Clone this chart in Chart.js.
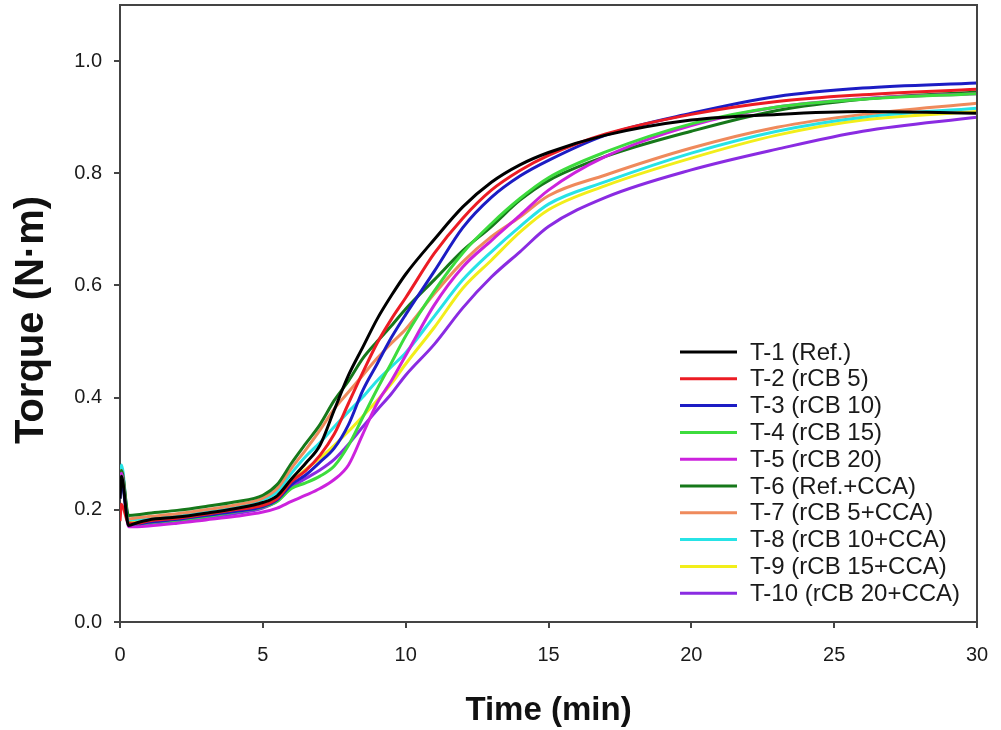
<!DOCTYPE html>
<html><head><meta charset="utf-8">
<script src="https://cdn.jsdelivr.net/npm/chart.js@4"></script>
<style>html,body{margin:0;padding:0;background:#fff}</style>
</head><body>
<canvas id="c" width="1001" height="730"></canvas>
<script>
// ---- data ----
const times = [0, 0.05, 0.3, 0.6, 1, 2, 3, 4, 5, 5.5, 6, 6.5, 7, 7.5, 8, 8.5, 9, 9.5, 10, 11, 12, 13, 14, 15, 17, 20, 23, 26, 30];
const t1  = [0.22, 0.26, 0.172, 0.177, 0.182, 0.187, 0.194, 0.202, 0.213, 0.225, 0.255, 0.283, 0.315, 0.378, 0.44, 0.49, 0.54, 0.582, 0.62, 0.682, 0.74, 0.784, 0.815, 0.837, 0.868, 0.895, 0.905, 0.91, 0.907];
const t2  = [0.18, 0.21, 0.176, 0.176, 0.18, 0.185, 0.192, 0.2, 0.208, 0.22, 0.25, 0.27, 0.297, 0.335, 0.39, 0.445, 0.497, 0.54, 0.578, 0.657, 0.72, 0.77, 0.805, 0.832, 0.87, 0.905, 0.928, 0.94, 0.95];
const t3  = [0.22, 0.25, 0.176, 0.175, 0.178, 0.183, 0.19, 0.197, 0.206, 0.218, 0.245, 0.262, 0.285, 0.31, 0.352, 0.413, 0.46, 0.507, 0.548, 0.625, 0.703, 0.757, 0.795, 0.823, 0.868, 0.907, 0.937, 0.952, 0.961];
const t4  = [0.23, 0.26, 0.177, 0.175, 0.177, 0.182, 0.188, 0.196, 0.205, 0.215, 0.238, 0.248, 0.26, 0.278, 0.315, 0.365, 0.415, 0.462, 0.51, 0.59, 0.658, 0.71, 0.755, 0.792, 0.838, 0.888, 0.918, 0.932, 0.942];
const t5  = [0.24, 0.265, 0.17, 0.17, 0.171, 0.176, 0.182, 0.188, 0.196, 0.203, 0.215, 0.226, 0.238, 0.254, 0.28, 0.335, 0.39, 0.43, 0.475, 0.565, 0.633, 0.68, 0.725, 0.77, 0.83, 0.885, 0.918, 0.933, 0.942];
const t6  = [0.24, 0.27, 0.19, 0.191, 0.194, 0.199, 0.206, 0.214, 0.226, 0.245, 0.283, 0.318, 0.352, 0.395, 0.43, 0.47, 0.5, 0.528, 0.558, 0.61, 0.662, 0.705, 0.752, 0.787, 0.83, 0.875, 0.912, 0.932, 0.945];
const t7  = [0.24, 0.27, 0.184, 0.186, 0.188, 0.193, 0.2, 0.208, 0.221, 0.238, 0.274, 0.307, 0.342, 0.38, 0.41, 0.44, 0.47, 0.497, 0.522, 0.585, 0.642, 0.687, 0.722, 0.76, 0.797, 0.845, 0.882, 0.905, 0.925];
const t8  = [0.26, 0.28, 0.182, 0.183, 0.185, 0.19, 0.197, 0.205, 0.218, 0.232, 0.265, 0.295, 0.32, 0.348, 0.375, 0.401, 0.43, 0.455, 0.48, 0.545, 0.61, 0.66, 0.705, 0.745, 0.785, 0.836, 0.875, 0.9, 0.916];
const t9  = [0.25, 0.27, 0.18, 0.181, 0.182, 0.187, 0.193, 0.2, 0.21, 0.222, 0.25, 0.272, 0.292, 0.315, 0.34, 0.367, 0.395, 0.425, 0.46, 0.525, 0.595, 0.645, 0.695, 0.735, 0.778, 0.827, 0.868, 0.895, 0.91];
const t10 = [0.25, 0.275, 0.173, 0.174, 0.175, 0.18, 0.186, 0.193, 0.203, 0.215, 0.24, 0.256, 0.271, 0.29, 0.317, 0.348, 0.378, 0.407, 0.44, 0.495, 0.56, 0.615, 0.66, 0.705, 0.757, 0.806, 0.843, 0.875, 0.9];
const seriesNames = ['T-1 (Ref.)', 'T-2 (rCB 5)', 'T-3 (rCB 10)', 'T-4 (rCB 15)', 'T-5 (rCB 20)', 'T-6 (Ref.+CCA)', 'T-7 (rCB 5+CCA)', 'T-8 (rCB 10+CCA)', 'T-9 (rCB 15+CCA)', 'T-10 (rCB 20+CCA)'];
const seriesValues = [t1, t2, t3, t4, t5, t6, t7, t8, t9, t10];
const xTicks = [0, 5, 10, 15, 20, 25, 30];
const yTicks = [0.0, 0.2, 0.4, 0.6, 0.8, 1.0];
const xTitle = 'Time (min)';
const yTitle = 'Torque (N·m)';

// ---- styles ----
const seriesColors = ['#000000', '#ec1c24', '#1c1cc4', '#3ddc3d', '#cc22dd', '#16781a', '#ef8a5c', '#27e3e6', '#f2ee1a', '#8a2be2'];
const FONT = '"Liberation Sans", Arial, sans-serif';

const datasets = seriesValues.map((vals, i) => ({
  label: seriesNames[i],
  data: times.map((t, k) => ({x: t, y: vals[k]})),
  borderColor: seriesColors[i],
  backgroundColor: seriesColors[i],
  borderWidth: 3,
  pointRadius: 0,
  cubicInterpolationMode: 'monotone',
  fill: false
}));

const decor = {
  id: 'decor',
  afterDraw(chart) {
    const {ctx, chartArea: a} = chart;
    ctx.save();
    // frame (top & right)
    ctx.strokeStyle = '#444';
    ctx.lineWidth = 2;
    ctx.beginPath();
    ctx.moveTo(a.left, a.top); ctx.lineTo(a.right, a.top); ctx.lineTo(a.right, a.bottom);
    ctx.stroke();
    // legend
    const lx0 = a.right - 297, lx1 = a.right - 240, tx = a.right - 227;
    const y0 = a.top + 347, dy = 26.8;
    ctx.font = '24px ' + FONT;
    ctx.textBaseline = 'middle';
    ctx.textAlign = 'left';
    chart.data.datasets.forEach((ds, i) => {
      const y = y0 + i * dy;
      ctx.strokeStyle = ds.borderColor;
      ctx.lineWidth = 3;
      ctx.beginPath(); ctx.moveTo(lx0, y); ctx.lineTo(lx1, y); ctx.stroke();
      ctx.fillStyle = '#1a1a1a';
      ctx.fillText(ds.label, tx, y + 1);
    });
    // axis titles
    ctx.fillStyle = '#111';
    ctx.textAlign = 'center';
    ctx.textBaseline = 'middle';
    ctx.font = 'bold 33px ' + FONT;
    ctx.fillText(xTitle, (a.left + a.right) / 2, 711);
    ctx.translate(32, 320);
    ctx.rotate(-Math.PI / 2);
    ctx.font = 'bold 40px ' + FONT;
    ctx.fillText(yTitle, 0, 0);
    ctx.restore();
  }
};

const noPad = s => { s.paddingTop = 0; s.paddingBottom = 0; s.paddingLeft = 0; s.paddingRight = 0; };

new Chart(document.getElementById('c'), {
  type: 'line',
  data: {datasets},
  options: {
    responsive: false,
    animation: false,
    devicePixelRatio: 1,
    layout: {padding: {top: 5, right: 24, left: 0, bottom: 0}},
    plugins: {legend: {display: false}, tooltip: {enabled: false}},
    scales: {
      x: {
        type: 'linear', min: 0, max: 30,
        afterBuildTicks: s => { s.ticks = xTicks.map(v => ({value: v})); },
        afterFit: s => { s.height = 108; noPad(s); },
        grid: {drawOnChartArea: false, drawTicks: true, tickLength: 6, color: '#444', lineWidth: 2},
        border: {display: true, color: '#444', width: 2},
        ticks: {font: {size: 20, family: FONT}, color: '#1a1a1a', padding: 15, maxRotation: 0}
      },
      y: {
        type: 'linear', min: 0, max: 1.1,
        afterBuildTicks: s => { s.ticks = yTicks.map(v => ({value: v})); },
        afterFit: s => { s.width = 120; noPad(s); },
        grid: {drawOnChartArea: false, drawTicks: true, tickLength: 6, color: '#444', lineWidth: 2},
        border: {display: true, color: '#444', width: 2},
        ticks: {font: {size: 20, family: FONT}, color: '#1a1a1a', padding: 12, callback: v => Number(v).toFixed(1)}
      }
    }
  },
  plugins: [decor]
});
</script>
</body></html>
